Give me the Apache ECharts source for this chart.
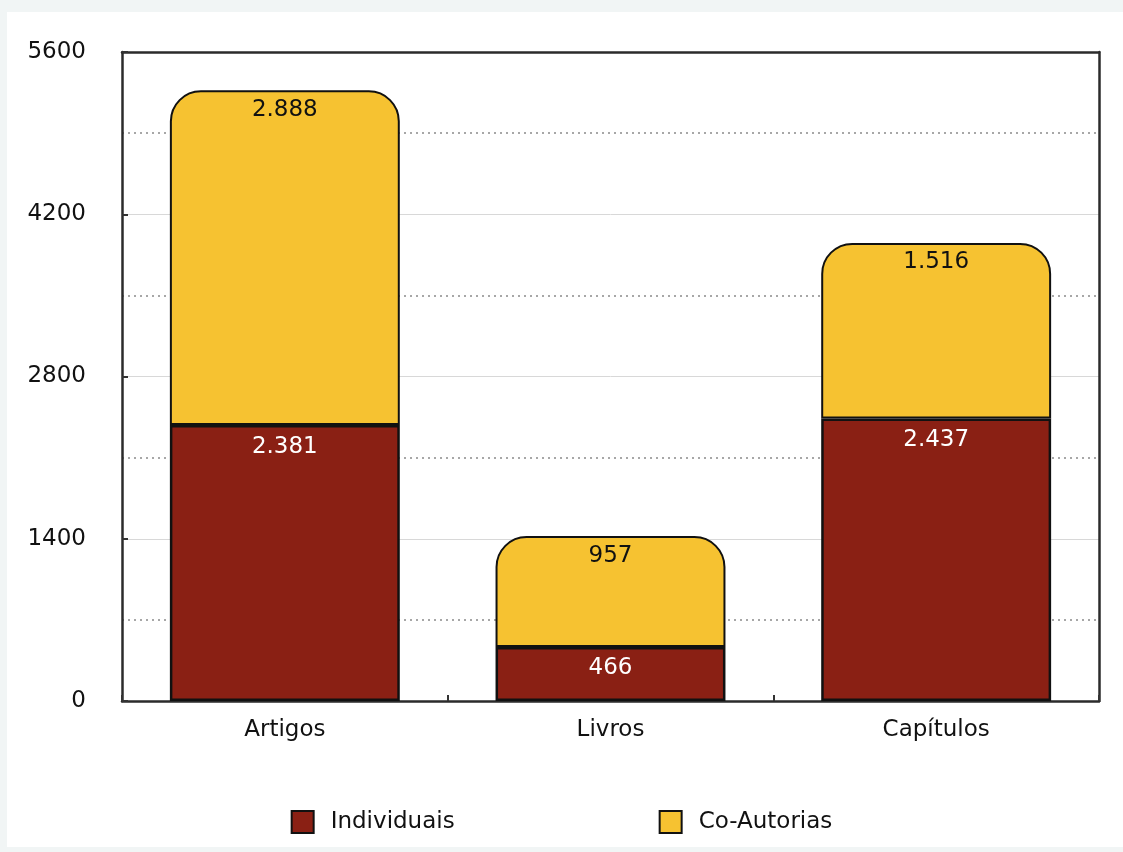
<!DOCTYPE html>
<html>
<head>
<meta charset="utf-8">
<script src="https://cdn.jsdelivr.net/npm/echarts@6/dist/echarts.min.js"></script>
<style>
html,body{margin:0;padding:0;background:#f1f5f5;}
#wrap{position:absolute;left:7px;top:12px;width:1116px;height:835px;background:#fff;}
#chart{position:absolute;left:-7px;top:-12px;width:1123px;height:852px;}
</style>
</head>
<body>
<div id="wrap"><div id="chart"></div></div>
<script>
const categories = ['Artigos', 'Livros', 'Capítulos'];
const individuais = [2381, 466, 2437];
const coAutorias = [2888, 957, 1516];
const seriesNames = ['Individuais', 'Co-Autorias'];
const yMin = 0, yMax = 5600, yStep = 1400, yMinorStep = 700;

const fmt = v => String(v).replace(/\B(?=(\d{3})+(?!\d))/g, '.');
const font = '"DejaVu Sans", "Liberation Sans", Arial, sans-serif';
const frame = {show: true, onZero: false, lineStyle: {color: '#2b2b2b', width: 2.5}};

const chart = echarts.init(document.getElementById('chart'), null, {renderer: 'canvas'});
chart.setOption({
  backgroundColor: 'transparent',
  animation: false,
  grid: {left: 122, right: 24, top: 52, bottom: 151},
  legend: {
    top: 805, left: 'center', itemWidth: 22, itemHeight: 22, itemGap: 204,
    icon: 'rect',
    textStyle: {fontFamily: font, fontSize: 23, color: '#111', padding: [0, 0, 0, 12]},
    data: seriesNames
  },
  xAxis: [{
    type: 'category', data: categories, position: 'bottom',
    axisLine: frame,
    axisTick: {show: true, inside: true, length: 6, lineStyle: {color: '#333', width: 2}},
    axisLabel: {fontFamily: font, fontSize: 23, color: '#111', margin: 18}
  }, {
    type: 'category', data: categories, position: 'top',
    axisLine: frame, axisTick: {show: false}, axisLabel: {show: false}, splitLine: {show: false}
  }],
  yAxis: [{
    type: 'value', min: yMin, max: yMax, interval: yStep, position: 'left',
    axisLine: frame,
    axisTick: {show: true, inside: true, length: 6, lineStyle: {color: '#333', width: 2}},
    axisLabel: {fontFamily: font, fontSize: 23, color: '#111', margin: 36, formatter: v => String(v)},
    splitLine: {show: true, lineStyle: {color: '#d8d8d8', width: 1, type: 'solid'}}
  }, {
    type: 'value', min: yMin, max: yMax, interval: yMinorStep, position: 'right',
    axisLine: frame, axisTick: {show: false}, axisLabel: {show: false},
    splitLine: {show: true, lineStyle: {color: ['rgba(0,0,0,0)', '#8a8a8a'], width: 1.5, type: [2, 4]}}
  }],
  series: [{
    name: seriesNames[0], type: 'bar', stack: 'total', data: individuais, barWidth: '70.6%',
    itemStyle: {color: '#8a2014', borderColor: '#111', borderWidth: 2.5},
    label: {show: true, position: 'insideTop', distance: 10, formatter: p => fmt(p.value), fontFamily: font, fontSize: 23, color: '#fff'},
    z: 3
  }, {
    name: seriesNames[1], type: 'bar', stack: 'total', data: coAutorias, barWidth: '70.6%',
    itemStyle: {color: '#f6c231', borderColor: '#111', borderWidth: 2, borderRadius: [30, 30, 0, 0]},
    label: {show: true, position: 'insideTop', distance: 8, formatter: p => fmt(p.value), fontFamily: font, fontSize: 23, color: '#111'},
    z: 2
  }]
});
</script>
</body>
</html>
